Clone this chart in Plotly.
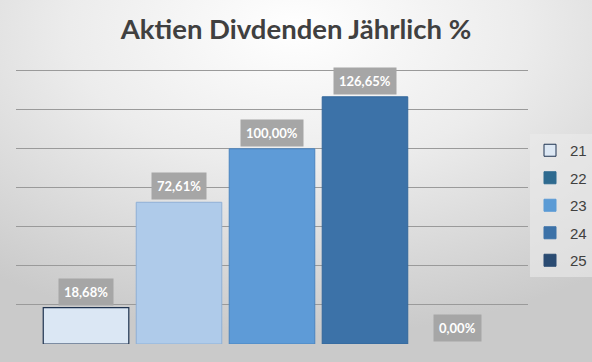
import base64
import plotly.graph_objects as go

series = ["21", "22", "23", "24", "25"]
values = [18.68, 72.61, 100.00, 126.65, 0.00]
labels = ["18,68%", "72,61%", "100,00%", "126,65%", "0,00%"]
positions = [0, 1, 2, 3, 4]
bar_colors = ["#dbe7f4", "#afcbea", "#5e9bd7", "#3c72a8", "#2a4b72"]
bar_lines = ["#1f3350", "#8fb0d6", "#4a84bf", "#33679b", "#223f60"]
bar_line_w = [1.2, 1, 1, 1, 0]
legend_colors = ["#dde8f4", "#2e6a8f", "#5b9bd5", "#3c72a8", "#2a4b72"]
legend_lines = ["#1f3350", "#2e6a8f", "#5b9bd5", "#3c72a8", "#2a4b72"]

W, H = 592, 362
ml, mr, mt, mb = 16, 64, 68, 18
pw, ph = W - ml - mr, H - mt - mb

svg = f'''<svg xmlns="http://www.w3.org/2000/svg" width="{W}" height="{H}">
<defs><radialGradient id="g" cx="50%" cy="8%" r="85%" fx="50%" fy="8%">
<stop offset="0" stop-color="#ffffff"/><stop offset="0.45" stop-color="#ececec"/>
<stop offset="1" stop-color="#cacaca"/></radialGradient></defs>
<rect width="{W}" height="{H}" fill="url(#g)"/></svg>'''
src = "data:image/svg+xml;base64," + base64.b64encode(svg.encode()).decode()

fig = go.Figure()
for i, s in enumerate(series):
    fig.add_trace(go.Bar(
        x=[positions[i]], y=[values[i]], width=0.92, name=s,
        marker=dict(color=bar_colors[i], line=dict(color=bar_lines[i], width=bar_line_w[i])),
        showlegend=False, hoverinfo="skip"))
for i, s in enumerate(series):
    fig.add_trace(go.Bar(
        x=[None], y=[None], name=s, legendgroup=s,
        marker=dict(color=legend_colors[i], line=dict(color=legend_lines[i], width=1))))

for i, lab in enumerate(labels):
    fig.add_annotation(
        x=positions[i], y=values[i], text=f"<b>{lab}</b>", showarrow=False,
        yanchor="bottom", yshift=2, bgcolor="#a6a6a6", borderpad=5,
        font=dict(family="Lato, Arial", size=13, color="#ffffff"))

fig.add_layout_image(dict(
    source=src, xref="paper", yref="paper",
    x=-ml / pw, y=1 + mt / ph, sizex=W / pw, sizey=H / ph,
    sizing="stretch", xanchor="left", yanchor="top", layer="below"))

fig.update_layout(
    width=W, height=H,
    margin=dict(l=ml, r=mr, t=mt, b=mb, autoexpand=False),
    paper_bgcolor="#d8d8d8", plot_bgcolor="rgba(0,0,0,0)",
    barmode="overlay",
    title=dict(text="<b>Aktien Divdenden Jährlich %</b>", x=0.5, xanchor="center",
               xref="container", yref="container",
               y=0.92, yanchor="middle",
               font=dict(family="Lato, Arial", size=27.5, color="#404040")),
    xaxis=dict(range=[-0.753, 4.753], showticklabels=False, showgrid=False,
               zeroline=False, showline=False, fixedrange=True),
    yaxis=dict(range=[0, 141.4], tickvals=[0, 20, 40, 60, 80, 100, 120, 140],
               showticklabels=False, showgrid=True, fixedrange=True,
               gridcolor="#9a9a9a", gridwidth=1, zeroline=False, showline=False),
    legend=dict(xref="container", yref="container", x=530 / W, xanchor="left",
                y=1 - 134 / H, yanchor="top",
                bgcolor="rgba(235,235,235,0.6)", borderwidth=0,
                font=dict(family="Liberation Sans, Arial", size=15, color="#404040"),
                tracegroupgap=5, itemwidth=30),
    showlegend=True,
)
fig.write_html("out.html", config={"displayModeBar": False},
               post_script="document.body.style.margin='0';document.body.style.padding='0';")
